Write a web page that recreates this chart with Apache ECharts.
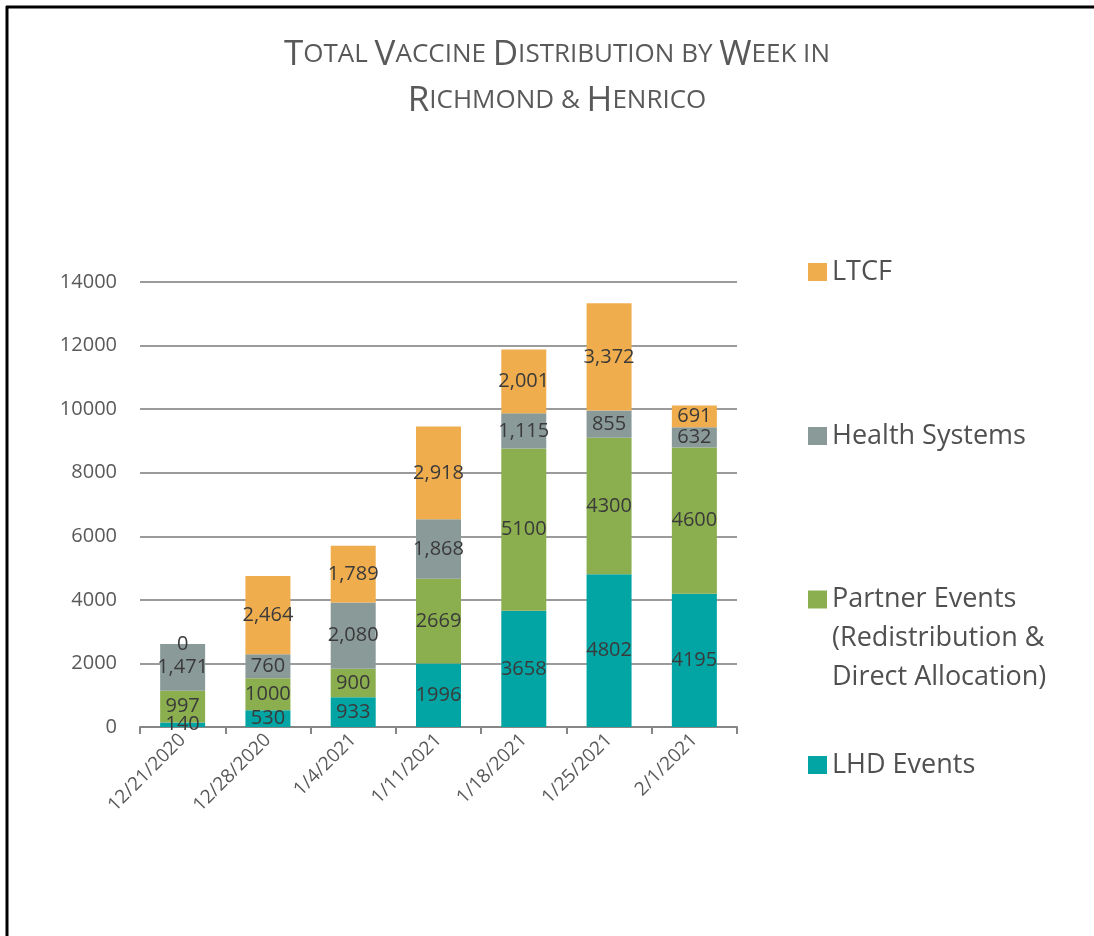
<!DOCTYPE html>
<html>
<head>
<meta charset="utf-8">
<title>chart</title>
<script src="https://cdn.jsdelivr.net/npm/echarts@6/dist/echarts.min.js"></script>
<style>
html,body{margin:0;padding:0;background:#fff;}
#x{width:1094px;height:936px;}
</style>
</head>
<body>
<div id="x"></div>
<script type="text/javascript">
// weekly distribution
var weeks = ['12/21/2020', '12/28/2020', '1/4/2021', '1/11/2021', '1/18/2021', '1/25/2021', '2/1/2021'];
var lhd = [140, 530, 933, 1996, 3658, 4802, 4195];
var partner = [997, 1000, 900, 2669, 5100, 4300, 4600];
var health = [1471, 760, 2080, 1868, 1115, 855, 632];
var ltcf = [0, 2464, 1789, 2918, 2001, 3372, 691];
var yTicks = [0, 2000, 4000, 6000, 8000, 10000, 12000, 14000];

var names = ['LHD Events', 'Partner Events (Redistribution & Direct Allocation)', 'Health Systems', 'LTCF'];
var colors = ['#02A4A4', '#8BAE4F', '#8A9A99', '#EFAD4D'];
var font = '"Open Sans", Lato, sans-serif';

function plain(p){ return String(p.value); }
function comma(p){ return Number(p.value).toLocaleString('en-US'); }

function bar(name, data, color, fmt){
	return {
		name: name,
		type: 'bar',
		stack: 'total',
		barWidth: 45,
		data: data,
		itemStyle: {color: color},
		label: {
			show: true,
			position: 'inside',
			color: '#3a3a3a',
			fontSize: 20,
			fontFamily: font,
			formatter: fmt
		}
	};
}

function leg(name, top, extra){
	var l = {
		data: [name],
		orient: 'vertical',
		left: 803,
		top: top,
		itemWidth: 19,
		itemHeight: 18,
		itemGap: 0,
		icon: 'rect',
		selectedMode: false,
		textStyle: {fontSize: 27, color: '#505050', fontFamily: font, lineHeight: 30}
	};
	if(extra){
		for(var k in extra){ l[k] = extra[k]; }
	}
	return l;
}

// title in small caps: capital letters big, the rest small
function sc(str){
	var out = '';
	for(var i = 0; i < str.length; i++){
		var c = str.charAt(i);
		if(c >= 'A' && c <= 'Z'){ out += '{a|' + c + '}'; }
		else { out += '{b|' + c.toUpperCase() + '}'; }
	}
	return out;
}

var option = {
	backgroundColor: '#fff',
	animation: false,
	graphic: [
		{type: 'line', shape: {x1: 6, y1: 7, x2: 1094, y2: 7}, style: {stroke: '#000', lineWidth: 3}},
		{type: 'line', shape: {x1: 7, y1: 6, x2: 7, y2: 936}, style: {stroke: '#000', lineWidth: 3}},
		{
			type: 'text', x: 557, y: 32,
			style: {
				text: sc('Total Vaccine Distribution by Week in') + '\n' + sc('Richmond & Henrico'),
				align: 'center',
				fill: '#595959',
				rich: {
					a: {fontSize: 35, fontFamily: font, color: '#555555', lineHeight: 46},
					b: {fontSize: 26, fontFamily: font, color: '#555555', lineHeight: 46}
				}
			}
		}
	],
	legend: [
		leg(names[3], 252),
		leg(names[2], 416),
		leg(names[1], 497, {
			formatter: function(){ return '\n\nPartner Events\n(Redistribution &\nDirect Allocation)'; },
			textStyle: {fontSize: 27, color: '#505050', fontFamily: font, lineHeight: 39}
		}),
		leg(names[0], 745)
	],
	grid: {left: 140, right: 357, top: 282, bottom: 209},
	xAxis: {
		type: 'category',
		data: weeks,
		axisLine: {lineStyle: {color: '#868686', width: 2}},
		axisTick: {show: true, length: 7, lineStyle: {color: '#868686', width: 2}},
		axisLabel: {rotate: 45, fontSize: 19, color: '#595959', fontFamily: font, margin: 10, interval: 0}
	},
	yAxis: {
		type: 'value',
		min: yTicks[0],
		max: yTicks[yTicks.length - 1],
		interval: yTicks[1] - yTicks[0],
		axisLine: {show: false},
		axisTick: {show: false},
		axisLabel: {fontSize: 20, color: '#595959', fontFamily: font, margin: 23, formatter: function(v){ return String(v); }},
		splitLine: {lineStyle: {color: '#7a7a7a', width: 1.5}}
	},
	series: [
		bar(names[0], lhd, colors[0], plain),
		bar(names[1], partner, colors[1], plain),
		bar(names[2], health, colors[2], comma),
		bar(names[3], ltcf, colors[3], comma)
	]
};

var chart = echarts.init(document.getElementById('x'));
chart.setOption(option);
</script>
</body>
</html>
